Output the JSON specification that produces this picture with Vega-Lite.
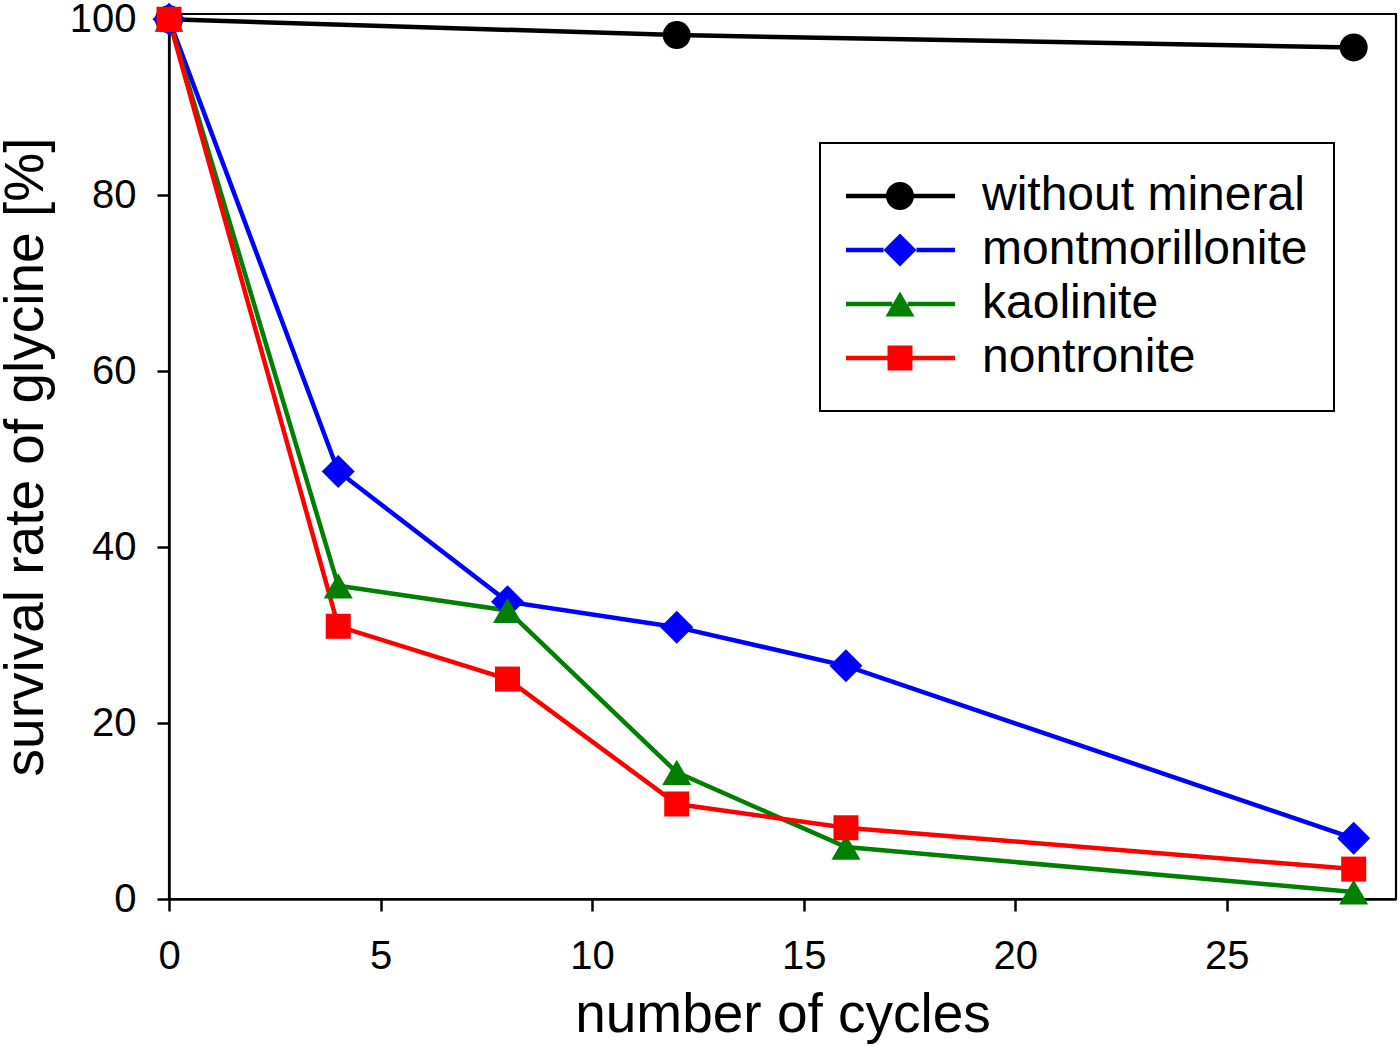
{
  "$schema": "https://vega.github.io/schema/vega-lite/v6.json",
  "width": 1227,
  "height": 885,
  "autosize": {"type": "none"},
  "padding": {"left": 169, "top": 14, "right": 4, "bottom": 149},
  "background": "white",
  "config": {
    "view": {"stroke": "black", "strokeWidth": 2.2},
    "font": "Liberation Sans",
    "axis": {
      "grid": false,
      "domainColor": "black",
      "domainWidth": 2.5,
      "tickColor": "black",
      "tickWidth": 2.5,
      "tickSize": 12,
      "labelFont": "Liberation Sans",
      "labelFontSize": 40,
      "labelColor": "black",
      "labelFlush": false,
      "titleFont": "Liberation Sans",
      "titleFontWeight": "normal",
      "titleColor": "black"
    }
  },
  "data": {
    "values": [
      {"series": "without mineral", "cycles": 0, "survival": 100},
      {"series": "without mineral", "cycles": 12, "survival": 98.2},
      {"series": "without mineral", "cycles": 28, "survival": 96.8},
      {"series": "montmorillonite", "cycles": 0, "survival": 100},
      {"series": "montmorillonite", "cycles": 4, "survival": 48.6},
      {"series": "montmorillonite", "cycles": 8, "survival": 33.8},
      {"series": "montmorillonite", "cycles": 12, "survival": 30.9},
      {"series": "montmorillonite", "cycles": 16, "survival": 26.5},
      {"series": "montmorillonite", "cycles": 28, "survival": 6.9},
      {"series": "kaolinite", "cycles": 0, "survival": 100},
      {"series": "kaolinite", "cycles": 4, "survival": 35.6},
      {"series": "kaolinite", "cycles": 8, "survival": 32.8},
      {"series": "kaolinite", "cycles": 12, "survival": 14.4},
      {"series": "kaolinite", "cycles": 16, "survival": 5.9},
      {"series": "kaolinite", "cycles": 28, "survival": 0.8},
      {"series": "nontronite", "cycles": 0, "survival": 100},
      {"series": "nontronite", "cycles": 4, "survival": 31.0},
      {"series": "nontronite", "cycles": 8, "survival": 25.0},
      {"series": "nontronite", "cycles": 12, "survival": 10.8},
      {"series": "nontronite", "cycles": 16, "survival": 8.1},
      {"series": "nontronite", "cycles": 28, "survival": 3.4}
    ]
  },
  "encoding": {
    "x": {
      "field": "cycles",
      "type": "quantitative",
      "scale": {"domain": [0, 29], "nice": false, "zero": false},
      "axis": {
        "values": [0, 5, 10, 15, 20, 25],
        "title": "number of cycles",
        "titleFontSize": 55,
        "labelPadding": 25,
        "titlePadding": 12
      }
    },
    "y": {
      "field": "survival",
      "type": "quantitative",
      "scale": {"domain": [0, 100.6], "nice": false},
      "axis": {
        "values": [0, 20, 40, 60, 80, 100],
        "title": "survival rate of glycine [%]",
        "titleFontSize": 55,
        "labelPadding": 21,
        "titlePadding": 15
      }
    }
  },
  "layer": [
    {
      "mark": {"type": "line", "strokeWidth": 4.5},
      "encoding": {
        "color": {
          "field": "series",
          "type": "nominal",
          "sort": ["without mineral", "montmorillonite", "kaolinite", "nontronite"],
          "scale": {
            "domain": ["without mineral", "montmorillonite", "kaolinite", "nontronite"],
            "range": ["#000000", "#0000ff", "#008000", "#ff0000"]
          },
          "legend": {
            "title": null,
            "orient": "none",
            "legendX": 651,
            "legendY": 129,
            "padding": 26,
            "symbolOffset": -1,
            "labelOffset": 27,
            "clipHeight": 54,
            "rowPadding": 0,
            "symbolSize": 12100,
            "symbolStrokeWidth": 0,
            "labelFont": "Liberation Sans",
            "labelFontSize": 48,
            "labelColor": "black",
            "labelLimit": 1000,
            "strokeColor": "black",
            "fillColor": "white",
            "encode": {
              "legend": {"update": {"strokeWidth": {"value": 2}}},
              "symbols": {
                "update": {
                  "shape": {"signal": "datum.value === 'without mineral' ? 'M-1,-0.041H-0.25V0.041H-1Z M0.25,-0.041H1V0.041H0.25Z M-0.2545,0A0.2545,0.2545 0 1,1 0.2545,0A0.2545,0.2545 0 1,1 -0.2545,0Z' : datum.value === 'montmorillonite' ? 'M-1,-0.041H-0.3V0.041H-1Z M0.3,-0.041H1V0.041H0.3Z M-0.3,0L0,-0.3L0.3,0L0,0.3Z' : datum.value === 'kaolinite' ? 'M-1,-0.041H-0.14V0.041H-1Z M0.14,-0.041H1V0.041H0.14Z M0,-0.227L0.264,0.227L-0.264,0.227Z' : 'M-1,-0.041H-0.227V0.041H-1Z M0.227,-0.041H1V0.041H0.227Z M-0.227,-0.227H0.227V0.227H-0.227Z'"},
                  "size": {"value": 12100},
                  "fill": {"signal": "datum.value === 'without mineral' ? '#000000' : datum.value === 'montmorillonite' ? '#0000ff' : datum.value === 'kaolinite' ? '#008000' : '#ff0000'"},
                  "fillOpacity": {"value": 1},
                  "opacity": {"value": 1},
                  "strokeWidth": {"value": 0}
                }
              }
            }
          }
        }
      }
    },
    {
      "transform": [{"filter": "datum.series === 'without mineral'"}],
      "mark": {"type": "point", "filled": true, "opacity": 1, "strokeWidth": 0, "shape": "circle", "size": 784, "color": "#000000"}
    },
    {
      "transform": [{"filter": "datum.series === 'montmorillonite'"}],
      "mark": {"type": "point", "filled": true, "opacity": 1, "strokeWidth": 0, "shape": "diamond", "size": 1089, "color": "#0000ff"}
    },
    {
      "transform": [{"filter": "datum.series === 'kaolinite'"}],
      "mark": {"type": "point", "filled": true, "opacity": 1, "strokeWidth": 0, "shape": "triangle-up", "size": 841, "color": "#008000"}
    },
    {
      "transform": [{"filter": "datum.series === 'nontronite'"}],
      "mark": {"type": "point", "filled": true, "opacity": 1, "strokeWidth": 0, "shape": "square", "size": 625, "color": "#ff0000"}
    }
  ]
}
